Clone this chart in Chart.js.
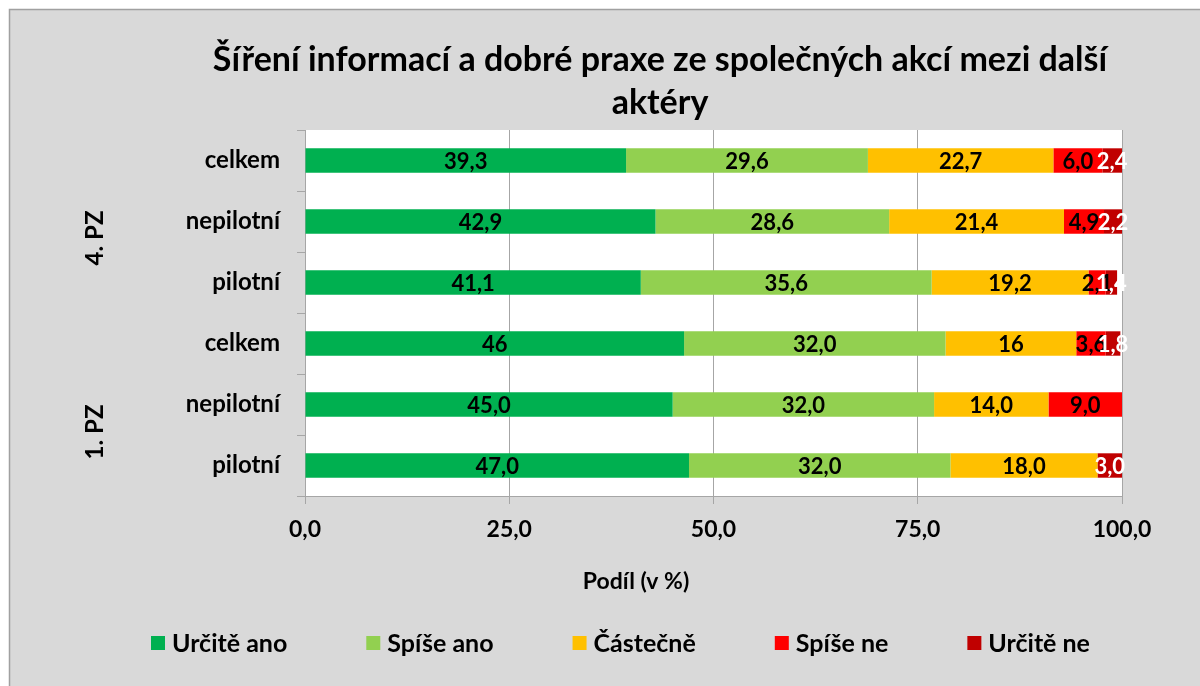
<!DOCTYPE html>
<html>
<head>
<meta charset="utf-8">
<script src="https://cdn.jsdelivr.net/npm/chart.js@4"></script>
<style>
  html, body { margin: 0; padding: 0; background: #fff; }
  #wrap { width: 1200px; height: 686px; }
</style>
</head>
<body>
<div id="wrap"><canvas id="podilChart" width="1200" height="686"></canvas></div>
<script>
// categories, top to bottom
const categories = ['celkem', 'nepilotní', 'pilotní', 'celkem', 'nepilotní', 'pilotní'];
const groups = ['4. PZ', '1. PZ'];
const seriesNames = ['Určitě ano', 'Spíše ano', 'Částečně', 'Spíše ne', 'Určitě ne'];
const seriesColors = ['#00b050', '#92d050', '#ffc000', '#ff0000', '#c00000'];
const labelColors = ['#000', '#000', '#000', '#000', '#fff'];

// shares in %
const urciteAno = [39.3, 42.9, 41.1, 46.4, 45.0, 47.0];
const spiseAno  = [29.6, 28.6, 35.6, 32.0, 32.0, 32.0];
const castecne  = [22.7, 21.4, 19.2, 16.0, 14.0, 18.0];
const spiseNe   = [6.0, 4.9, 2.1, 3.6, 9.0, 0];
const urciteNe  = [2.4, 2.2, 1.4, 1.8, 0, 3.0];
// labels the source shows without decimals: [series, category]
const wholeLabels = [[0, 3], [2, 3]];
const xTicks = [0, 25, 50, 75, 100];

const series = [urciteAno, spiseAno, castecne, spiseNe, urciteNe];
const FONT = 'Lato, "Open Sans", sans-serif';

function labelText(i, j) {
    const v = series[i][j];
    const whole = wholeLabels.some(p => p[0] === i && p[1] === j);
    return v.toFixed(whole ? 0 : 1).replace('.', ',');
}

const decorPlugin = {
    id: 'decor',
    beforeDraw(chart) {
        const ctx = chart.ctx;
        const a = chart.chartArea;
        ctx.save();
        ctx.fillStyle = '#ffffff';
        ctx.fillRect(0, 0, chart.width, chart.height);
        ctx.fillStyle = '#d9d9d9';
        ctx.fillRect(9, 9, chart.width, chart.height);
        ctx.strokeStyle = '#a0a0a0';
        ctx.lineWidth = 1.5;
        ctx.beginPath();
        ctx.moveTo(9.5, chart.height);
        ctx.lineTo(9.5, 9.5);
        ctx.lineTo(chart.width, 9.5);
        ctx.stroke();
        ctx.fillStyle = '#ffffff';
        ctx.fillRect(a.left, a.top, a.right - a.left, a.bottom - a.top);
        ctx.restore();
    },
    afterDraw(chart) {
        const ctx = chart.ctx;
        ctx.save();
        ctx.fillStyle = '#000';
        ctx.textBaseline = 'middle';
        ctx.textAlign = 'center';

        // title
        ctx.font = 'bold 34px ' + FONT;
        ctx.fillText('Šíření informací a dobré praxe ze společných akcí mezi další', 660, 60);
        ctx.fillText('aktéry', 660, 103);

        // data labels
        ctx.font = 'bold 22px ' + FONT;
        chart.data.datasets.forEach((ds, i) => {
            const meta = chart.getDatasetMeta(i);
            meta.data.forEach((bar, j) => {
                if (series[i][j] === 0) return;
                ctx.fillStyle = labelColors[i];
                ctx.fillText(labelText(i, j), (bar.x + bar.base) / 2, bar.y + 1);
            });
        });

        // x axis title
        ctx.fillStyle = '#000';
        ctx.font = 'bold 23px ' + FONT;
        ctx.fillText('Podíl (v %)', 636, 582);

        // group labels, rotated
        ctx.font = 'bold 24px ' + FONT;
        [[groups[0], 238], [groups[1], 432]].forEach(([t, y]) => {
            ctx.save();
            ctx.translate(95, y);
            ctx.rotate(-Math.PI / 2);
            ctx.fillText(t, 0, 0);
            ctx.restore();
        });

        // legend
        ctx.font = 'bold 25px ' + FONT;
        ctx.textAlign = 'left';
        let x = 151;
        seriesNames.forEach((name, i) => {
            ctx.fillStyle = seriesColors[i];
            ctx.fillRect(x, 636, 14, 14);
            ctx.fillStyle = '#000';
            ctx.fillText(name, x + 21, 644);
            x += 21 + ctx.measureText(name).width + 79;
        });
        ctx.restore();
    }
};

const ctx = document.getElementById('podilChart').getContext('2d');
const podilChart = new Chart(ctx, {
    type: 'bar',
    data: {
        labels: categories,
        datasets: series.map((vals, i) => ({
            label: seriesNames[i],
            data: vals,
            backgroundColor: seriesColors[i],
            borderWidth: 0,
            barPercentage: 0.4,
            categoryPercentage: 1.0
        }))
    },
    options: {
        indexAxis: 'y',
        responsive: false,
        animation: false,
        layout: { padding: { top: 130, right: 78, bottom: 0, left: 0 } },
        scales: {
            x: {
                stacked: true,
                min: 0,
                max: 100,
                afterBuildTicks: scale => { scale.ticks = xTicks.map(v => ({ value: v })); },
                afterFit: scale => { scale.height = 190; },
                grid: { color: '#a6a6a6', tickLength: 8, lineWidth: 1 },
                border: { color: '#a6a6a6' },
                ticks: {
                    padding: 12,
                    color: '#000',
                    font: { family: FONT, size: 23, weight: 'bold' },
                    callback: v => v.toFixed(1).replace('.', ',')
                }
            },
            y: {
                stacked: true,
                afterFit: scale => { scale.width = 305; },
                grid: { offset: true, drawOnChartArea: false, tickLength: 8, color: '#a6a6a6' },
                border: { color: '#a6a6a6' },
                ticks: {
                    padding: 17,
                    color: '#000',
                    font: { family: FONT, size: 24, weight: 'bold' }
                }
            }
        },
        plugins: {
            legend: { display: false },
            tooltip: { enabled: false }
        }
    },
    plugins: [decorPlugin]
});
</script>
</body>
</html>
